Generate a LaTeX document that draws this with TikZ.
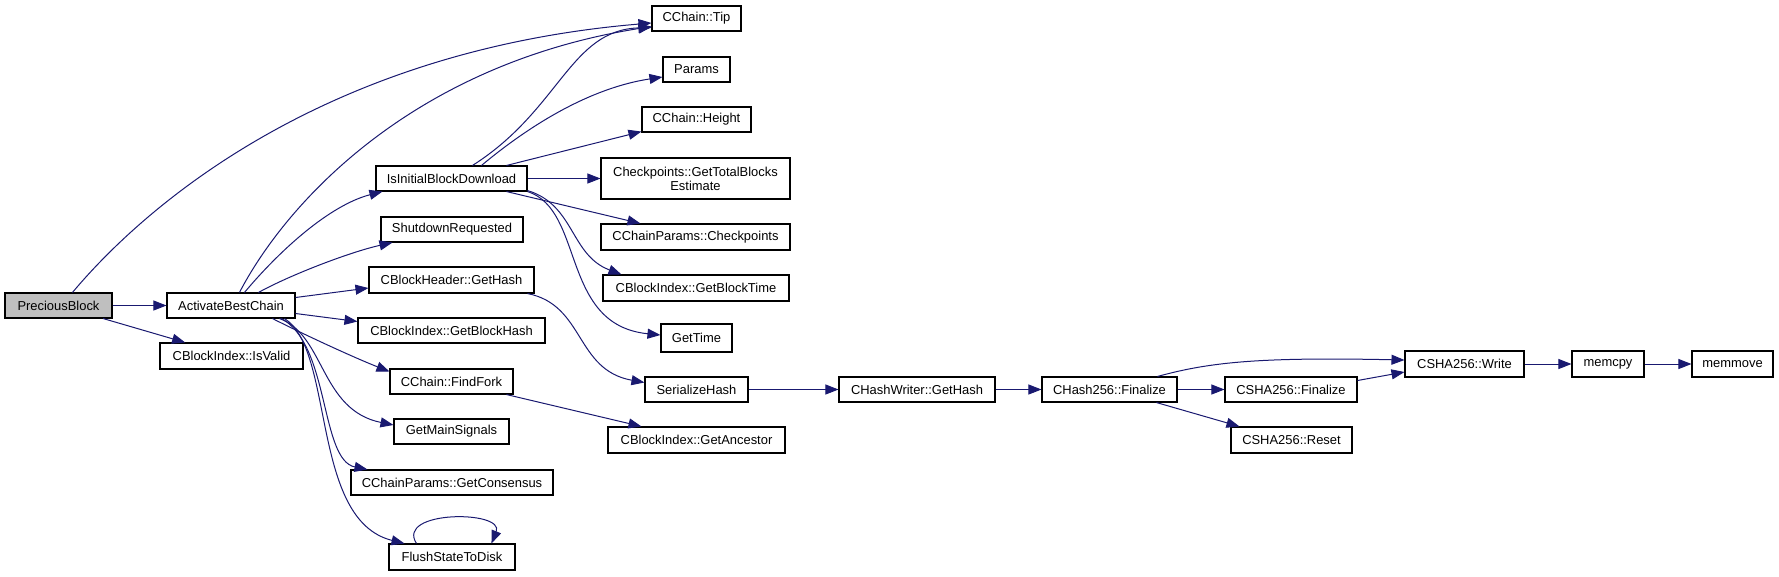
\documentclass[tikz,border=0pt]{standalone}
\usepackage{fontspec}
\setmainfont{Liberation Sans}
\usetikzlibrary{arrows.meta,calc}
\definecolor{linkcol}{HTML}{191970}
\definecolor{rootfill}{HTML}{BFBFBF}
\tikzset{
  box/.style={draw=black,line width=0.8pt,rectangle,inner sep=0pt,fill=white,
    font=\fontsize{9.7}{10.5}\selectfont,align=center},
  link/.style={draw=linkcol,line width=0.75pt,-{Triangle[length=9.75pt,width=7.5pt]}}
}
\newcommand{\mkbox}[7][]{\node[box,#1,minimum width={(#5-#3)*0.75pt},minimum height={(#6-#4)*0.75pt}] (#2) at ({(#3+#5)/2},{(#4+#6)/2}) {#7};}
\begin{document}
\begin{tikzpicture}[x=0.75pt,y=-0.75pt]
\useasboundingbox (0,0) rectangle (1779,576);
% nodes
\mkbox[fill=rootfill]{pb}{5}{293}{112}{318}{PreciousBlock}
\mkbox{abc}{167}{293}{295}{318}{ActivateBestChain}
\mkbox{isv}{160}{343}{303}{369}{CBlockIndex::IsValid}
\mkbox{tip}{652}{6}{741}{31}{CChain::Tip}
\mkbox{par}{663}{57}{730}{82}{Params}
\mkbox{hgt}{642}{107}{751}{132}{CChain::Height}
\mkbox{gtbe}{601}{158}{790}{199}{Checkpoints::GetTotalBlocks\\Estimate}
\mkbox{ibd}{376}{166}{527}{191}{IsInitialBlockDownload}
\mkbox{sdr}{381}{217}{523}{242}{ShutdownRequested}
\mkbox{bhg}{369}{267}{534}{293}{CBlockHeader::GetHash}
\mkbox{gbh}{358}{318}{545}{343}{CBlockIndex::GetBlockHash}
\mkbox{cpk}{601}{224}{790}{250}{CChainParams::Checkpoints}
\mkbox{gbt}{603}{275}{789}{301}{CBlockIndex::GetBlockTime}
\mkbox{gtm}{661}{324}{732}{352}{GetTime}
\mkbox{ffk}{390}{369}{513}{394}{CChain::FindFork}
\mkbox{gms}{394}{419}{509}{444}{GetMainSignals}
\mkbox{gcs}{351}{470}{553}{495}{CChainParams::GetConsensus}
\mkbox{fsd}{389}{544}{515}{570}{FlushStateToDisk}
\mkbox{srh}{645}{377}{748}{402}{SerializeHash}
\mkbox{anc}{608}{427}{785}{453}{CBlockIndex::GetAncestor}
\mkbox{chw}{839}{377}{995}{402}{CHashWriter::GetHash}
\mkbox{chf}{1042}{377}{1177}{402}{CHash256::Finalize}
\mkbox{shf}{1225}{377}{1357}{402}{CSHA256::Finalize}
\mkbox{shr}{1231}{427}{1352}{453}{CSHA256::Reset}
\mkbox{shw}{1405}{351}{1524}{377}{CSHA256::Write}
\mkbox{mcp}{1572}{351}{1644}{377}{memcpy}
\mkbox{mmv}{1692}{351}{1773}{377}{memmove}
% connectors
\draw[link] (pb) -- (abc);
\draw[link] (pb) -- (isv);
\draw[link] ($(pb.north west)+(68,0)$) .. controls (150,200) and (330,50) .. ($(tip.west)+(0,4.5)$);
\draw[link] ($(abc.north west)+(73,0)$) .. controls (285,205) and (410,65) .. ($(tip.west)+(0,8)$);
\draw[link] ($(abc.north west)+(78,0)$) .. controls (280,250) and (330,205) .. ($(ibd.south west)+(7,0)$);
\draw[link] ($(abc.north west)+(92,0)$) .. controls (290,275) and (350,252) .. ($(sdr.south west)+(12,0)$);
\draw[link] ($(abc.east)+(0,-8)$) -- ($(bhg.west)+(0,8)$);
\draw[link] ($(abc.east)+(0,8)$) -- ($(gbh.west)+(0,-9)$);
\draw[link] ($(abc.south west)+(106,0)$) .. controls (305,335) and (355,358) .. ($(ffk.west)+(0,-10)$);
\draw[link] ($(abc.south west)+(113,0)$) .. controls (325,335) and (320,410) .. ($(gms.west)+(0,-6.5)$);
\draw[link] ($(abc.south west)+(115,0)$) .. controls (330,345) and (320,460) .. ($(gcs.north west)+(17,0)$);
\draw[link] ($(abc.south west)+(118,0)$) .. controls (335,350) and (310,520) .. ($(fsd.north west)+(16,0)$);
\draw[link] ($(fsd.north west)+(28,0)$) .. controls (395,510) and (505,510) .. ($(fsd.north west)+(103,0)$);
\draw[link] ($(ibd.north west)+(97,0)$) .. controls (560,110) and (570,30) .. ($(tip.west)+(0,9)$);
\draw[link] ($(ibd.north west)+(106,0)$) .. controls (530,125) and (590,88) .. ($(par.west)+(0,7.5)$);
\draw[link] ($(ibd.north west)+(131,0)$) -- ($(hgt.south west)+(0,-1)$);
\draw[link] (ibd) -- (gtbe);
\draw[link] ($(ibd.south west)+(131,0)$) -- ($(cpk.north west)+(40,0)$);
\draw[link] ($(ibd.south east)+(0,-1)$) .. controls (575,205) and (570,255) .. ($(gbt.north west)+(19,0)$);
\draw[link] (ibd.south east) .. controls (585,210) and (560,325) .. ($(gtm.west)+(0,-3)$);
\draw[link] ($(bhg.south east)+(-7,0)$) .. controls (585,305) and (575,370) .. ($(srh.west)+(0,-7)$);
\draw[link] ($(ffk.south west)+(117,0)$) -- ($(anc.north west)+(34,0)$);
\draw[link] (srh) -- (chw);
\draw[link] (chw) -- (chf);
\draw[link] (chf) -- (shf);
\draw[link] ($(chf.south west)+(115,0)$) -- ($(shr.north west)+(9,0)$);
\draw[link] ($(chf.north west)+(116,0)$) .. controls (1210,362) and (1260,357) .. ($(shw.west)+(0,-4)$);
\draw[link] ($(shf.east)+(0,-9)$) -- ($(shw.west)+(0,8)$);
\draw[link] (shw) -- (mcp);
\draw[link] (mcp) -- (mmv);
\end{tikzpicture}
\end{document}
